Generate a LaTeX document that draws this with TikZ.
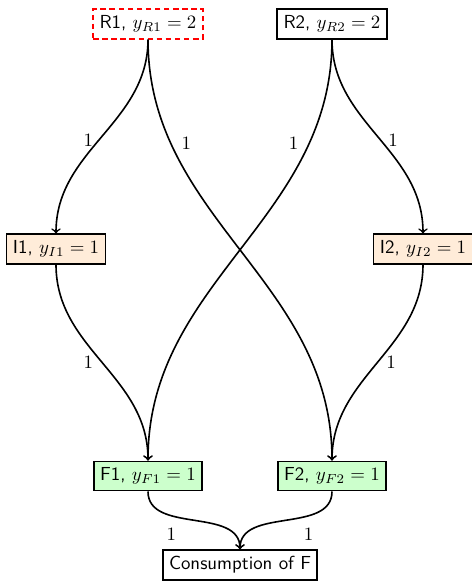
\documentclass[tikz,border=0pt]{standalone}
\begin{document}
\begin{tikzpicture}[x=0.53pt, y=-0.53pt,
  box/.style={draw, line width=0.9pt, font=\sffamily, inner sep=0.3333em},
  rbox/.style={box, draw=red, dash pattern=on 3pt off 1.8pt},
  ibox/.style={box, fill=orange!15},
  fbox/.style={box, fill=green!20},
  flow/.style={->, line width=0.85pt},
  wt/.style={inner sep=0.3333em}]
  \useasboundingbox (0,0) rectangle (472,582);

  % resources, intermediates, finals, sink
  \node[rbox] (R1) at (148,24) {R1, $y_{R1}=2$};
  \node[box]  (R2) at (332,24) {R2, $y_{R2}=2$};
  \node[ibox] (I1) at (56,249) {I1, $y_{I1}=1$};
  \node[ibox] (I2) at (423,249) {I2, $y_{I2}=1$};
  \node[fbox] (F1) at (148,476) {F1, $y_{F1}=1$};
  \node[fbox] (F2) at (332,476) {F2, $y_{F2}=1$};
  \node[box]  (C)  at (240,565) {Consumption of F};

  % weighted flows
  \draw[flow] (R1) to[out=-90,in=90] node[wt,left=1pt,yshift=-2pt]{$1$} (I1);
  \draw[flow] (R1) to[out=-90,in=90] node[wt,pos=0.22,right=2pt]{$1$} (F2);
  \draw[flow] (R2) to[out=-90,in=90] node[wt,pos=0.22,left=2pt]{$1$} (F1);
  \draw[flow] (R2) to[out=-90,in=90] node[wt,right=2pt,yshift=-2pt]{$1$} (I2);
  \draw[flow] (I1) to[out=-90,in=90] node[wt,left=1pt]{$1$} (F1);
  \draw[flow] (I2) to[out=-90,in=90] node[wt,right=1pt]{$1$} (F2);
  \draw[flow] (F1) to[out=-90,in=90] node[wt,pos=0.33,below=3pt]{$1$} (C);
  \draw[flow] (F2) to[out=-90,in=90] node[wt,pos=0.33,below=3pt]{$1$} (C);
\end{tikzpicture}
\end{document}
